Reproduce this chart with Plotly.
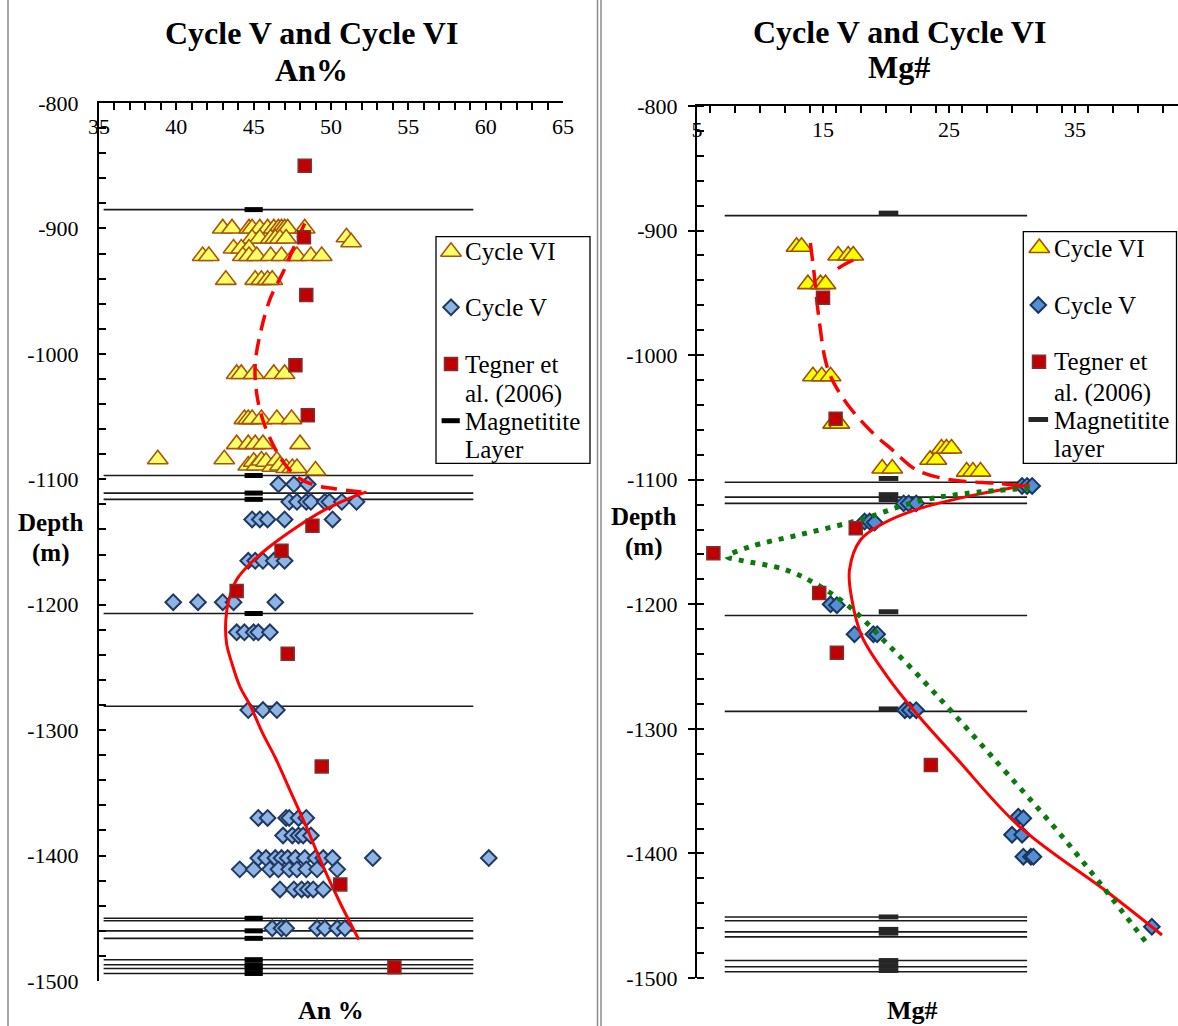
import plotly.graph_objects as go

W, H = 1178, 1026
SERIF = "Liberation Serif, Times New Roman, serif"

# ---------------- An% panel ----------------
c6_an = [43.0, 43.6, 44.7, 44.9, 45.4, 45.9, 46.3, 46.6, 46.8, 47.0, 47.2, 48.3,
         44.9, 45.4, 46.1, 46.4, 46.7, 47.1, 51.0, 51.3,
         43.7, 44.2, 44.7,
         41.7, 42.1, 44.3, 44.7, 45.2, 46.1, 46.8, 47.6, 47.8, 48.7, 49.4,
         43.2, 45.1, 45.5, 45.9, 46.2,
         43.9, 44.2, 45.0, 46.3, 47.0,
         44.4, 44.65, 44.9, 45.5, 46.5, 47.45,
         43.9, 44.65, 45.1, 45.6, 48.0,
         38.8, 43.1,
         44.65, 45.0, 45.2, 45.5, 45.8, 46.2, 46.5, 46.7, 47.1, 47.5, 47.8, 49.0]
c6_an_depth = [-900] * 12 + [-908] * 6 + [-907, -911] + [-916] * 3 + [-922] * 11 \
    + [-941] * 5 + [-1016] * 5 + [-1052] * 6 + [-1072] * 5 + [-1084, -1084] \
    + [-1089, -1086, -1089, -1085, -1086, -1090, -1085, -1089, -1091, -1091, -1091, -1093]

c5_an = [46.6, 47.6, 48.5,
         47.3, 47.8, 48.4, 48.7, 49.6, 49.9, 50.7, 51.65,
         44.9, 45.4, 45.9, 47.0, 50.1,
         44.65, 45.1, 45.6, 46.3, 47.0,
         39.8, 41.4, 43.0, 43.7, 46.4,
         43.9, 44.4, 45.0, 45.3, 46.05,
         44.65, 45.6, 46.5,
         45.3, 45.9, 47.1, 47.3, 47.9, 48.4,
         46.9, 47.5, 47.9, 48.2, 48.7,
         45.3, 45.8, 46.4, 46.8, 47.2, 47.7, 48.3, 49.0, 49.5, 50.1, 52.7, 60.2,
         44.1, 45.0, 46.05, 46.6, 47.3, 47.8, 48.4, 49.1, 50.4,
         46.7, 47.6, 48.1, 48.5, 48.85, 49.5,
         46.2, 46.8, 47.1, 49.1, 49.6, 50.4, 50.9]
c5_an_depth = [-1104] * 3 + [-1118] * 8 + [-1132] * 5 + [-1165] * 5 + [-1198] * 5 \
    + [-1222] * 5 + [-1284] * 3 + [-1370] * 6 + [-1384] * 5 + [-1402] * 12 \
    + [-1411] * 9 + [-1427] * 6 + [-1458] * 7

tegner_an = [48.3, 48.25, 48.4, 47.7, 48.5, 48.8, 46.8, 43.9, 47.2, 49.4, 50.6, 54.1]
tegner_an_depth = [-850, -907, -953, -1009, -1049, -1137, -1157, -1189, -1239, -1329, -1423, -1489]

# magnetitite layers (An% section)
mag_an_lines = [-885, -1097, -1111, -1116, -1207, -1281, -1450, -1452, -1460, -1466,
                -1483, -1487, -1490, -1494]
mag_an_marks = [-885, -1097, -1111, -1116, -1207, -1450, -1460, -1466, -1483, -1487, -1490, -1494]
mag_an_x = 45.0
mag_an_span = (35.3, 59.2)

# trend curves (An%)
trend6_an = [48.3, 47.6, 46.9, 46.1, 45.5, 45.1, 45.2, 45.6, 46.2, 46.9, 47.8, 48.9, 50.2, 51.4, 52.3]
trend6_an_depth = [-896, -915, -935, -955, -980, -1008, -1032, -1053, -1071, -1086, -1098, -1104.5,
                   -1107.5, -1109.3, -1110.5]
trend5_an = [52.3, 51.6, 49.5, 47.8, 46.0, 44.8, 43.9, 43.4, 43.2, 43.25, 43.6, 44.1, 44.8, 45.6,
             46.4, 47.35, 48.4, 49.5, 50.6, 51.8]
trend5_an_depth = [-1110, -1113, -1125, -1138, -1154, -1167, -1180, -1196, -1212, -1231, -1247,
                   -1265, -1281, -1303, -1322, -1348, -1377, -1409, -1438, -1467]

# ---------------- Mg# panel ----------------
c6_mg = [12.9, 13.3, 16.2, 17.0, 17.4, 13.8, 14.8, 15.2, 14.2, 14.9, 15.6, 15.8, 16.3,
         19.7, 20.5, 23.5, 24.0, 24.4, 24.8, 25.2, 26.4, 26.9, 27.5]
c6_mg_depth = [-913, -913, -920, -920, -920, -943, -943, -943, -1017, -1017, -1017, -1055, -1055,
               -1091, -1091, -1084, -1084, -1075, -1075, -1075, -1093.5, -1093.5, -1093.5]

c5_mg = [30.8, 31.2, 31.6, 21.4, 21.8, 22.4, 18.3, 18.7, 19.1, 15.6, 16.1, 17.5, 19.0, 19.3,
         21.5, 21.9, 22.4, 30.5, 30.9, 30.0, 30.8, 30.9, 31.5, 31.7, 41.1]
c5_mg_depth = [-1105, -1105, -1105, -1119, -1119, -1119, -1133.6, -1133.6, -1134.4, -1200, -1200.8,
               -1224, -1224, -1224, -1285, -1285, -1285, -1370.5, -1371.8, -1385, -1385,
               -1402.6, -1402.6, -1402.6, -1458.8]

tegner_mg = [15.0, 16.0, 17.6, 6.3, 14.7, 16.1, 23.56]
tegner_mg_depth = [-954, -1051, -1139, -1159, -1191, -1239, -1329]

mag_mg_lines = [-888, -1102, -1114, -1119, -1209, -1286, -1451, -1454, -1463, -1467, -1486, -1491, -1495]
mag_mg_marks = [-886, -1099, -1112, -1116, -1206, -1284, -1451, -1461, -1464, -1486, -1490, -1494]
mag_mg_x = 20.2
mag_mg_span = (7.2, 31.2)

trend6_mg_a = [14.0, 14.3, 14.55, 14.8, 15.1, 15.6, 16.9, 19.0, 20.5, 22.4, 25.1, 29.0, 31.4]
trend6_mg_a_depth = [-910, -935, -960, -980, -1000, -1017, -1039, -1063, -1076, -1092, -1100, -1103, -1105.5]
trend6_mg_b = [17.4, 16.4, 15.6]
trend6_mg_b_depth = [-923.6, -929, -935]
trend5_mg = [31.4, 26.4, 22.4, 19.8, 18.0, 17.1, 17.3, 18.1, 20.1, 22.4, 25.6, 30.6, 37.7, 41.9]
trend5_mg_depth = [-1104, -1113.6, -1124, -1135, -1148, -1172.5, -1196.5, -1226, -1258, -1287.5,
                   -1323.7, -1378.5, -1432, -1465.5]
trend_all_mg = [31.4, 26.4, 22.4, 18.0, 13.2, 9.2, 7.4, 8.4, 12.1, 14.8, 17.4, 19.8, 22.4, 25.1,
                28.3, 34.2, 40.6]
trend_all_mg_depth = [-1106.8, -1111, -1117.6, -1132, -1144, -1153.8, -1161.8, -1164.5, -1172.5,
                      -1185.8, -1204.6, -1228.7, -1255.4, -1284.9, -1321, -1389, -1470.8]

depth_ticks = [-1500, -1400, -1300, -1200, -1100, -1000, -900, -800]
depth_ticktext = ["-1500", "-1400", "-1300", "-1200", "-1100", "-1000", "-900", "-800"]
an_ticks = [35, 40, 45, 50, 55, 60, 65]
mg_ticks = [5, 15, 25, 35]


def px_x(p):
    return p / W


def px_y(p):
    return 1 - p / H


def hlines(depths, span):
    xs, ys = [], []
    for d in depths:
        xs += [span[0], span[1], None]
        ys += [d, d, None]
    return xs, ys


tri_l = dict(symbol="triangle-up", size=18, color="#FFFF66", line=dict(color="#A8560C", width=1.6))
tri_r = dict(symbol="triangle-up", size=18, color="#FFFF00", line=dict(color="#A05000", width=1.6))
dia_l = dict(symbol="diamond", size=12, color="#8DB4E2", line=dict(color="#1F3864", width=2))
dia_r = dict(symbol="diamond", size=12, color="#558ED5", line=dict(color="#17375E", width=2))
sq = dict(symbol="square", size=13, color="#C00000", line=dict(color="#7F3030", width=1.5))
dash_l = dict(symbol="line-ew", size=13, line=dict(color="#000000", width=5))
dash_r = dict(symbol="line-ew", size=14, line=dict(color="#262626", width=5))

fig = go.Figure()

# --- An% subplot ---
lx, ly = hlines(mag_an_lines, mag_an_span)
fig.add_trace(go.Scatter(x=lx, y=ly, mode="lines", line=dict(color="#1a1a1a", width=1.6),
                         xaxis="x", yaxis="y", hoverinfo="skip"))
fig.add_trace(go.Scatter(x=[mag_an_x] * len(mag_an_marks), y=mag_an_marks, mode="markers",
                         marker=dash_l, xaxis="x", yaxis="y", name="Magnetitite Layer"))
fig.add_trace(go.Scatter(x=c6_an, y=c6_an_depth, mode="markers", marker=tri_l,
                         xaxis="x", yaxis="y", name="Cycle VI"))
fig.add_trace(go.Scatter(x=c5_an, y=c5_an_depth, mode="markers", marker=dia_l,
                         xaxis="x", yaxis="y", name="Cycle V"))
fig.add_trace(go.Scatter(x=trend6_an, y=trend6_an_depth, mode="lines", line_shape="spline",
                         line=dict(color="#FF0000", width=3.5, dash="16px,9px"),
                         xaxis="x", yaxis="y", hoverinfo="skip"))
fig.add_trace(go.Scatter(x=trend5_an, y=trend5_an_depth, mode="lines", line_shape="spline",
                         line=dict(color="#FF0000", width=3), xaxis="x", yaxis="y", hoverinfo="skip"))
fig.add_trace(go.Scatter(x=tegner_an, y=tegner_an_depth, mode="markers", marker=sq,
                         xaxis="x", yaxis="y", name="Tegner et al. (2006)"))

# --- Mg# subplot ---
lx, ly = hlines(mag_mg_lines, mag_mg_span)
fig.add_trace(go.Scatter(x=lx, y=ly, mode="lines", line=dict(color="#1a1a1a", width=1.6),
                         xaxis="x2", yaxis="y2", hoverinfo="skip"))
fig.add_trace(go.Scatter(x=[mag_mg_x] * len(mag_mg_marks), y=mag_mg_marks, mode="markers",
                         marker=dash_r, xaxis="x2", yaxis="y2", name="Magnetitite layer"))
fig.add_trace(go.Scatter(x=c6_mg, y=c6_mg_depth, mode="markers", marker=tri_r,
                         xaxis="x2", yaxis="y2", name="Cycle VI"))
fig.add_trace(go.Scatter(x=c5_mg, y=c5_mg_depth, mode="markers", marker=dia_r,
                         xaxis="x2", yaxis="y2", name="Cycle V"))
for xs, ys in [(trend6_mg_a, trend6_mg_a_depth), (trend6_mg_b, trend6_mg_b_depth)]:
    fig.add_trace(go.Scatter(x=xs, y=ys, mode="lines", line_shape="spline",
                             line=dict(color="#FF0000", width=3.5, dash="18px,9px"),
                             xaxis="x2", yaxis="y2", hoverinfo="skip"))
fig.add_trace(go.Scatter(x=trend5_mg, y=trend5_mg_depth, mode="lines", line_shape="spline",
                         line=dict(color="#FF0000", width=3), xaxis="x2", yaxis="y2", hoverinfo="skip"))
fig.add_trace(go.Scatter(x=trend_all_mg, y=trend_all_mg_depth, mode="lines", line_shape="spline",
                         line=dict(color="#0A7A0A", width=5, dash="5px,7px"),
                         xaxis="x2", yaxis="y2", hoverinfo="skip"))
fig.add_trace(go.Scatter(x=tegner_mg, y=tegner_mg_depth, mode="markers", marker=sq,
                         xaxis="x2", yaxis="y2", name="Tegner et al. (2006)"))

# --- legend keys, drawn on a pixel overlay ---
legend_keys = [
    (451, 251.7, tri_l), (451, 307.3, dia_l), (451, 364, sq), (450.7, 420.7, dash_l),
    (1039.3, 248, tri_r), (1038.3, 305, dia_r), (1039, 361.7, sq), (1038.3, 419.5, dash_r),
]
for kx, ky, km in legend_keys:
    fig.add_trace(go.Scatter(x=[kx], y=[ky], mode="markers", marker=km,
                             xaxis="x3", yaxis="y3", hoverinfo="skip"))

legend_text = [
    (463, 251.7, "Cycle VI"), (463, 307.3, "Cycle V"), (463, 364, "Tegner et"),
    (463, 394, "al. (2006)"), (463, 421.7, "Magnetitite"), (463, 449, "Layer"),
    (1051.7, 248, "Cycle VI"), (1051.7, 305, "Cycle V"), (1051.7, 361.7, "Tegner et"),
    (1051.7, 392.5, "al. (2006)"), (1051.7, 420, "Magnetitite"), (1051.7, 448, "layer"),
]

annotations = []
for tx, ty, t in legend_text:
    annotations.append(dict(x=tx, y=ty, xref="x3", yref="y3", text=t, showarrow=False,
                            xanchor="left", yanchor="middle",
                            font=dict(family=SERIF, size=25, color="#000000")))

bold_text = [
    (311.5, 33, "Cycle V and Cycle VI", 32), (311.5, 70, "An%", 32),
    (899, 32, "Cycle V and Cycle VI", 32), (899, 67, "Mg#", 32),
    (50, 522, "Depth", 25), (50, 553, "(m)", 25),
    (643, 516, "Depth", 25), (643, 547, "(m)", 25),
    (331, 1010, "An %", 26), (912, 1010, "Mg#", 26),
]
for tx, ty, t, fs in bold_text:
    annotations.append(dict(x=tx, y=ty, xref="x3", yref="y3", text="<b>%s</b>" % t,
                            showarrow=False, xanchor="center", yanchor="middle",
                            font=dict(family=SERIF, size=fs, color="#000000")))

shapes = [
    dict(type="rect", xref="x3", yref="y3", x0=436, x1=590, y0=236.7, y1=463.3,
         line=dict(color="#000000", width=1.3), fillcolor="rgba(255,255,255,0)", layer="below"),
    dict(type="rect", xref="x3", yref="y3", x0=1023.3, x1=1176.5, y0=231.7, y1=463.3,
         line=dict(color="#000000", width=1.3), fillcolor="rgba(255,255,255,0)", layer="below"),
]
for bx in [8, 597.5, 601]:
    shapes.append(dict(type="line", xref="x3", yref="y3", x0=bx, x1=bx, y0=0, y1=H,
                       line=dict(color="#8c8c8c", width=1.5), layer="below"))

axis_font = dict(family=SERIF, size=22, color="#000000")

fig.update_layout(
    width=W, height=H, margin=dict(l=0, r=0, t=0, b=0, pad=0, autoexpand=False),
    paper_bgcolor="#FFFFFF", plot_bgcolor="rgba(0,0,0,0)",
    showlegend=False, annotations=annotations, shapes=shapes,
    xaxis=dict(domain=[px_x(99), px_x(563)], range=[35, 65], anchor="y", side="top",
               showline=True, linecolor="#000000", linewidth=2, showgrid=False, zeroline=False,
               tickvals=an_ticks, ticktext=[str(v) for v in an_ticks], ticks="inside",
               ticklen=7, tickwidth=1.5, tickcolor="#000000", ticklabelposition="inside",
               ticklabeloverflow="allow", automargin=False, ticklabelstandoff=10,
               tickfont=axis_font,
               minor=dict(ticks="inside", dtick=1, ticklen=7, tickwidth=1.5, tickcolor="#000000",
                          showgrid=False)),
    yaxis=dict(domain=[px_y(981), px_y(103)], range=[-1500, -800], anchor="x",
               showline=True, linecolor="#000000", linewidth=2, showgrid=False, zeroline=False,
               tickvals=depth_ticks, ticktext=depth_ticktext, ticks="inside", ticklen=7,
               tickwidth=1.5, tickcolor="#000000", tickfont=axis_font, ticklabelstandoff=14,
               automargin=False,
               minor=dict(ticks="inside", dtick=20, ticklen=7, tickwidth=1.5, tickcolor="#000000",
                          showgrid=False)),
    xaxis2=dict(domain=[px_x(697), 1.0], range=[5, 5 + (W - 697) / 12.6], anchor="y2", side="top",
                showline=True, linecolor="#000000", linewidth=2, showgrid=False, zeroline=False,
                tickvals=mg_ticks, ticktext=[str(v) for v in mg_ticks], ticks="inside",
                ticklen=7, tickwidth=1.5, tickcolor="#000000", ticklabelposition="inside",
                ticklabeloverflow="allow", automargin=False, ticklabelstandoff=10,
                tickfont=axis_font,
                minor=dict(ticks="inside", dtick=2, ticklen=7, tickwidth=1.5, tickcolor="#000000",
                           showgrid=False)),
    yaxis2=dict(domain=[px_y(978), px_y(106)], range=[-1500, -800], anchor="x2",
                showline=True, linecolor="#000000", linewidth=2, showgrid=False, zeroline=False,
                tickvals=depth_ticks, ticktext=depth_ticktext, ticks="outside", ticklen=7,
                tickwidth=1.5, tickcolor="#000000", tickfont=axis_font, ticklabelstandoff=6,
                automargin=False,
                minor=dict(ticks="inside", dtick=20, ticklen=7, tickwidth=1.5, tickcolor="#000000",
                           showgrid=False)),
    xaxis3=dict(domain=[0, 1], range=[0, W], anchor="y3", visible=False, fixedrange=True,
                automargin=False),
    yaxis3=dict(domain=[0, 1], range=[H, 0], anchor="x3", visible=False, fixedrange=True,
                automargin=False),
)

fig.write_html("out.html")
